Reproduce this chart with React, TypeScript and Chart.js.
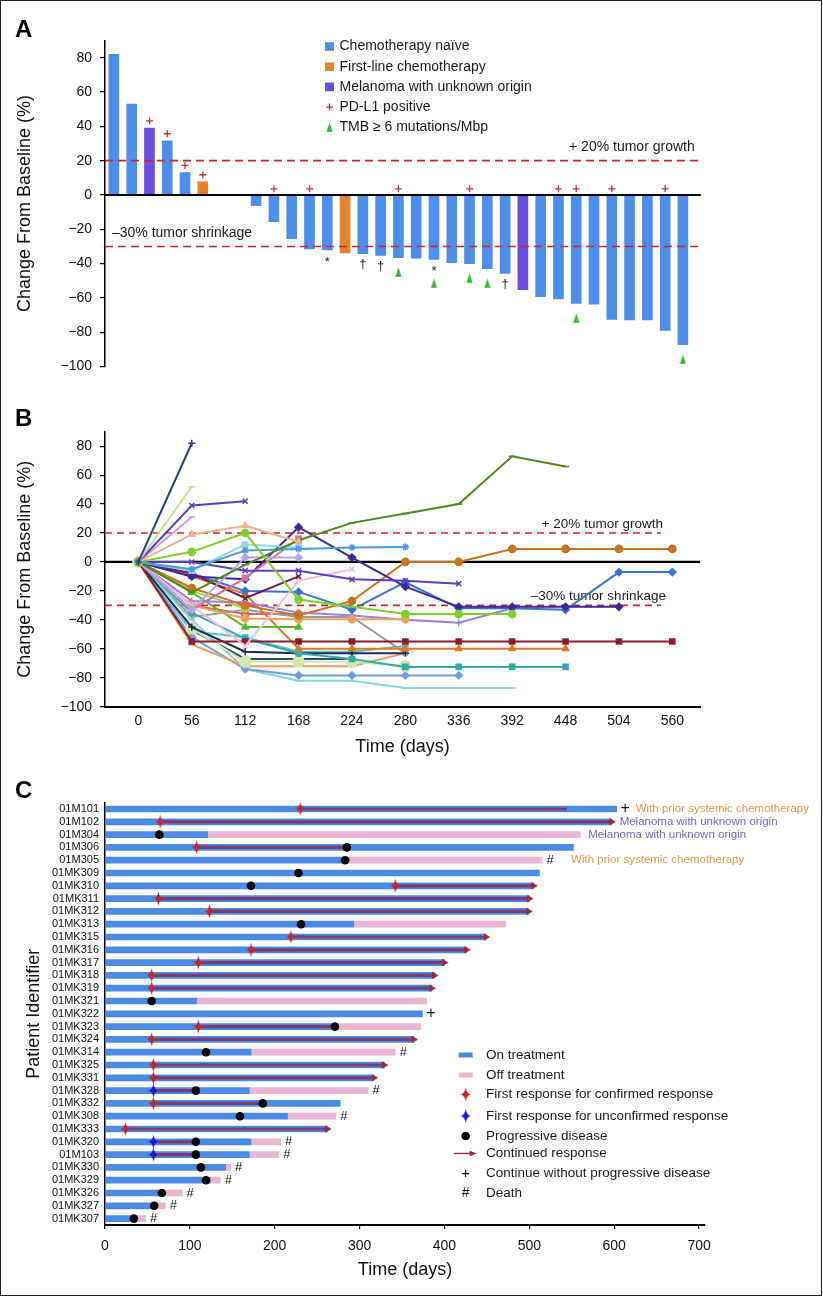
import React, { useEffect, useRef } from "react";
import { Chart, registerables } from "chart.js";

Chart.register(...registerables);

const FONT = '"Liberation Sans", Arial, Helvetica, sans-serif';
Chart.defaults.font.family = FONT;
Chart.defaults.color = "#111";

// ---------------- Panel A: best change from baseline ----------------
const waterfallChange: (number | null)[] = [
  82, 53, 39, 31.5, 13, 7.6, null, null, -6.2, -15.5, -25.5, -31.5, -32.1, -33.8, -34.2, -35.2, -36.5,
  -36.9, -37.5, -39.5, -40, -43, -45.7, -55.2, -59.3, -60.6, -63.2, -63.6, -72.5, -72.9, -72.9, -78.9, -87.3,
];
const waterfallCohort: string[] = [
  "N", "N", "M", "N", "N", "F", "", "", "N", "N", "N", "N", "N", "F", "N", "N", "N",
  "N", "N", "N", "N", "N", "N", "M", "N", "N", "N", "N", "N", "N", "N", "N", "N",
];
const cohortNames = ["Chemotherapy naïve", "First-line chemotherapy", "Melanoma with unknown origin"];
const pdl1PositiveSlots = [2, 3, 4, 5, 9, 11, 16, 20, 25, 26, 28, 31];
const tmbHighSlots = [16, 18, 20, 21, 26, 32];
const asteriskSlots = [12, 18];
const daggerSlots = [14, 15, 22];
const pctTicks = [-100, -80, -60, -40, -20, 0, 20, 40, 60, 80];

// ---------------- Panel B: change over time ----------------
const visitDays = [0, 56, 112, 168, 224, 280, 336, 392, 448, 504, 560];
const trajectories: (number | null)[][] = [
  [0, 82],
  [0, 52],
  [0, 39, 42],
  [0, 31],
  [0, 19, 25, 14],
  [0, 7, 20, -26, null, -36, -36, -36],
  [0, -21, -2, 15, 27, 33.5, 40, 73, 66],
  [0, -5, 8, 9, 10, 10.3],
  [0, -6, 12, 10],
  [0, -33, 3, 3],
  [0, 0, -6, -6, -12, -13, -15],
  [0, -33, -11, 16],
  [0, -10, -12, 24, 3, -17, -31, -31, -31, -31],
  [0, -8, -25, -10],
  [0, -30, -58, -13, -5],
  [0, -8, -20, -20.7, -33, -14, -32, -32, -33, -7, -7],
  [0, -18, -30, -37, -27, 0, 0, 9, 9, 9, 9],
  [0, -30, -39, -39.5, -39.5, -39.5],
  [0, -27, -28, -35, -37, -40, -42, -32],
  [0, -21, -45, -45],
  [0, -20, -32],
  [0, -55, -55, -55, -55, -55, -55, -55, -55, -55, -55],
  [0, -10, -22, -60, -60, -60, -60, -60, -60],
  [0, -35, -53, -63, -67, -72.5, -72.5, -72.5, -72.5],
  [0, -45, -62, -63, -63, -63],
  [0, -46, -69, -69, -69, -72],
  [0, -57, -72, -72, -72, -63],
  [0, -52, -74, -78.4, -78.4, -78.4, -78.4],
  [0, -40, -74, -82, -82, -87, -87, -87],
  [0, -38, -33, -38, -38, -63],
  [0, -48, -52, -62, -62, -58],
  [0, -47, -67, -67, -67],
  [0, -30, -36, -36],
];
const trajectoryColors = [
  "#23407e", "#bde58f", "#5a3fc6", "#d49ad6", "#f3b08e", "#7fd02c", "#4e8a1e", "#4a9ae0",
  "#8fd8ee", "#b7a6e6", "#5e3cc2", "#cf6ea6", "#3a2a99", "#7a1840", "#ecbfdc", "#3a72d6",
  "#c77420", "#f0a25c", "#9a80e2", "#5bb52c", "#a9d650", "#8b1c2c", "#e2782a", "#33a9ae",
  "#1d2b55", "#cfe9b0", "#eb9d62", "#6f9ee8", "#86d8d5", "#9a9a9a", "#56c6c4", "#2d4d6d", "#e0605a",
];
const trajectoryMarkers = [
  "cross", "line", "crossRot", "line", "triangle", "circle", "line", "star",
  "rect", "rectRot", "crossRot", "rect", "rectRot", "crossRot", "crossRot", "rectRot",
  "circle", "circle", "cross", "triangle", "circle", "rect", "triangle", "rect",
  "cross", "circle", "line", "rectRot", "line", "crossRot", "rect", "line", "circle",
];

// ---------------- Panel C: swimmer plot ----------------
const patientIds = [
  "01M101", "01M102", "01M304", "01M306", "01M305", "01MK309", "01MK310", "01MK311", "01MK312",
  "01MK313", "01MK315", "01MK316", "01MK317", "01MK318", "01MK319", "01MK321", "01MK322", "01MK323",
  "01MK324", "01MK314", "01MK325", "01MK331", "01MK328", "01MK332", "01MK308", "01MK333", "01MK320",
  "01M103", "01MK330", "01MK329", "01MK326", "01MK327", "01MK307",
];
const onTreatmentEnd = [
  603, 597, 121, 552, 283, 512, 505, 500, 499, 293, 449, 426, 400, 388, 385, 108, 374, 271, 364, 172,
  329, 317, 170, 277, 215, 262, 172, 170, 142, 124, 67, 58, 34,
];
const offTreatmentEnd: (number | null)[] = [
  null, null, 560, null, 515, null, null, null, null, 472, null, null, null, null, null, 379, null, 372,
  null, 342, null, null, 310, null, 272, null, 207, 205, 148, 136, 91, 71, 48,
];
const confirmedResponseDay: (number | null)[] = [
  230, 65, null, 108, null, null, 342, 63, 123, null, 219, 172, 110, 55, 55, null, null, 110, 55, null,
  57, 57, null, 57, null, 24, null, null, null, null, null, null, null,
];
const unconfirmedResponseDay: (number | null)[] = [
  null, null, null, null, null, null, null, null, null, null, null, null, null, null, null, null, null,
  null, null, null, null, null, 57, null, null, null, 57, 57, null, null, null, null, null,
];
const responseEndDay: (number | null)[] = [
  544, 597, null, 285, null, null, 505, 500, 499, null, 449, 426, 400, 388, 385, null, null, 271, 364,
  null, 329, 317, 107, 186, null, 262, 107, 107, null, null, null, null, null,
];
const responseContinues = [
  false, true, false, false, false, false, true, true, true, false, true, true, true, true, true, false,
  false, false, true, false, true, true, false, false, false, true, false, false, false, false, false,
  false, false,
];
const progressionDay: (number | null)[] = [
  null, null, 64, 285, 283, 228, 172, null, null, 231, null, null, null, null, null, 55, null, 271, null,
  119, null, null, 107, 186, 159, null, 107, 107, 113, 119, 67, 58, 34,
];
const continuesWithoutPD = ["01M101", "01MK322"];
const deceased = [
  "01M305", "01MK314", "01MK328", "01MK308", "01MK320", "01M103", "01MK330", "01MK329", "01MK326",
  "01MK327", "01MK307",
];
const patientNotes = [
  { id: "01M101", text: "With prior systemic chemotherapy", color: "#d99a4a" },
  { id: "01M102", text: "Melanoma with unknown origin", color: "#7a62c9" },
  { id: "01M304", text: "Melanoma with unknown origin", color: "#7a62c9" },
  { id: "01M305", text: "With prior systemic chemotherapy", color: "#d99a4a" },
];
const swimTicks = [0, 100, 200, 300, 400, 500, 600, 700];

// ---------------- helpers ----------------
const BLUE = "#4c8ee9";
const ORANGE = "#e5822b";
const PURPLE = "#6a4de0";
const PLUS_RED = "#b23a2a";
const TMB_GREEN = "#3ab83a";
const DASH_RED = "#c8282a";
const C_BLUE = "#4b8be6";
const C_PINK = "#e9b5d0";
const ARROW_RED = "#a8243a";

const minusFmt = (v: any) => (Number(v) < 0 ? "\u2212" + Math.abs(Number(v)) : String(v));

function makeCanvas(w: number, h: number, draw: (ctx: CanvasRenderingContext2D) => void) {
  const c = document.createElement("canvas");
  c.width = w;
  c.height = h;
  const ctx = c.getContext("2d")!;
  draw(ctx);
  return c;
}

function sparkle(color: string) {
  return makeCanvas(11, 15, (ctx) => {
    const cx = 5.5, cy = 7.5;
    ctx.fillStyle = color;
    ctx.beginPath();
    ctx.moveTo(cx, 0.3);
    ctx.quadraticCurveTo(cx + 0.9, cy - 0.9, 10.5, cy);
    ctx.quadraticCurveTo(cx + 0.9, cy + 0.9, cx, 14.7);
    ctx.quadraticCurveTo(cx - 0.9, cy + 0.9, 0.5, cy);
    ctx.quadraticCurveTo(cx - 0.9, cy - 0.9, cx, 0.3);
    ctx.fill();
  });
}

function tmbTriangle() {
  return makeCanvas(7, 10, (ctx) => {
    ctx.fillStyle = TMB_GREEN;
    ctx.beginPath();
    ctx.moveTo(3.5, 0.3);
    ctx.lineTo(6.6, 9.7);
    ctx.lineTo(0.4, 9.7);
    ctx.closePath();
    ctx.fill();
  });
}

const yAxisPct = (titlePad: number) => ({
  min: -100,
  max: 90,
  afterFit: (s: any) => {
    s.width = 105;
  },
  afterBuildTicks: (s: any) => {
    s.ticks = pctTicks.map((v) => ({ value: v }));
  },
  ticks: { padding: 8, font: { size: 14 }, color: "#111", callback: minusFmt },
  grid: { drawOnChartArea: false, drawTicks: true, tickLength: 5, color: "#000", lineWidth: 1.2 },
  border: { display: true, color: "#000", width: 1.5 },
  title: {
    display: true,
    text: "Change From Baseline (%)",
    font: { size: 18 },
    color: "#111",
    padding: { top: titlePad, bottom: 0 },
  },
});

// ---------------- Panel A ----------------
function buildA(canvas: HTMLCanvasElement) {
  const cohortColor: Record<string, string> = { N: BLUE, F: ORANGE, M: PURPLE, "": BLUE };
  const tri = tmbTriangle();
  const plugin = {
    id: "annotA",
    afterDatasetsDraw(chart: any) {
      const { ctx, chartArea, scales } = chart;
      const x = scales.x, y = scales.y;
      ctx.save();
      ctx.strokeStyle = DASH_RED;
      ctx.lineWidth = 1.6;
      ctx.setLineDash([8, 5]);
      [20, -30].forEach((v) => {
        const py = y.getPixelForValue(v);
        ctx.beginPath();
        ctx.moveTo(chartArea.left, py);
        ctx.lineTo(chartArea.right, py);
        ctx.stroke();
      });
      ctx.setLineDash([]);
      ctx.strokeStyle = "#000";
      ctx.lineWidth = 2;
      const z = y.getPixelForValue(0);
      ctx.beginPath();
      ctx.moveTo(chartArea.left, z);
      ctx.lineTo(chartArea.right, z);
      ctx.stroke();

      ctx.fillStyle = "#1a1a1a";
      ctx.font = `14px ${FONT}`;
      ctx.textBaseline = "middle";
      ctx.textAlign = "right";
      ctx.fillText("+ 20% tumor growth", chartArea.right - 6, y.getPixelForValue(20) - 14);
      ctx.textAlign = "left";
      ctx.fillText("\u201330% tumor shrinkage", chartArea.left + 7, y.getPixelForValue(-30) - 13.5);

      ctx.textAlign = "center";
      ctx.font = `13px ${FONT}`;
      asteriskSlots.forEach((i) => {
        ctx.fillText("*", x.getPixelForValue(i), y.getPixelForValue(waterfallChange[i] as number) + 12);
      });
      daggerSlots.forEach((i) => {
        ctx.fillText("\u2020", x.getPixelForValue(i), y.getPixelForValue(waterfallChange[i] as number) + 11);
      });

      // legend
      const lx = 325, ly0 = 46.5, dy = 20.2;
      const colors = [BLUE, ORANGE, PURPLE];
      ctx.font = `14px ${FONT}`;
      ctx.textAlign = "left";
      cohortNames.forEach((name, k) => {
        const ly = ly0 + k * dy;
        ctx.fillStyle = colors[k];
        ctx.fillRect(lx, ly - 4.3, 9, 8.6);
        ctx.fillStyle = "#1a1a1a";
        ctx.fillText(name, lx + 14.5, ly);
      });
      let ly = ly0 + 3 * dy;
      ctx.strokeStyle = PLUS_RED;
      ctx.lineWidth = 1.3;
      ctx.beginPath();
      ctx.moveTo(lx + 1, ly);
      ctx.lineTo(lx + 8, ly);
      ctx.moveTo(lx + 4.5, ly - 3.5);
      ctx.lineTo(lx + 4.5, ly + 3.5);
      ctx.stroke();
      ctx.fillStyle = "#1a1a1a";
      ctx.fillText("PD-L1 positive", lx + 14.5, ly);
      ly = ly0 + 4 * dy;
      ctx.drawImage(tri, lx + 1, ly - 5);
      ctx.fillText("TMB \u2265 6 mutations/Mbp", lx + 14.5, ly);
      ctx.restore();
    },
  };

  return new Chart(canvas, {
    type: "bar",
    data: {
      datasets: [
        {
          type: "bar",
          data: waterfallChange.map((v, i) => ({ x: i, y: v })) as any,
          backgroundColor: waterfallCohort.map((c) => cohortColor[c]),
          barThickness: 10,
          order: 2,
        },
        {
          type: "scatter",
          data: pdl1PositiveSlots.map((i) => {
            const v = waterfallChange[i] as number;
            return { x: i, y: v > 0 ? v + 4.2 : 3.6 };
          }),
          pointStyle: "cross",
          pointRadius: 3.5,
          borderColor: PLUS_RED,
          borderWidth: 1.3,
          order: 1,
        },
        {
          type: "scatter",
          data: tmbHighSlots.map((i) => {
            const v = waterfallChange[i] as number;
            return { x: i, y: v - (asteriskSlots.includes(i) ? 14 : 8.5) };
          }),
          pointStyle: tri as any,
          pointRadius: 5,
          order: 1,
        },
      ] as any,
    },
    options: {
      responsive: false,
      animation: false,
      layout: { padding: { left: 0, right: 122.3, top: 40.6, bottom: 18.5 } },
      plugins: { legend: { display: false }, tooltip: { enabled: false } },
      scales: {
        x: {
          type: "linear",
          min: -0.5,
          max: 33,
          offset: false,
          bounds: "data",
          grid: { offset: false },
          display: false,
        },
        y: yAxisPct(14.2) as any,
      },
    },
    plugins: [plugin],
  });
}

// ---------------- Panel B ----------------
function buildB(canvas: HTMLCanvasElement) {
  const plugin = {
    id: "guidesB",
    beforeDatasetsDraw(chart: any) {
      const { ctx, chartArea, scales } = chart;
      const x = scales.x, y = scales.y;
      const xEnd = x.getPixelForValue(548);
      ctx.save();
      ctx.strokeStyle = DASH_RED;
      ctx.lineWidth = 1.6;
      ctx.setLineDash([7, 5]);
      [20, -30].forEach((v) => {
        const py = y.getPixelForValue(v);
        ctx.beginPath();
        ctx.moveTo(chartArea.left, py);
        ctx.lineTo(xEnd, py);
        ctx.stroke();
      });
      ctx.setLineDash([]);
      ctx.strokeStyle = "#000";
      ctx.lineWidth = 2.2;
      const z = y.getPixelForValue(0);
      ctx.beginPath();
      ctx.moveTo(chartArea.left, z);
      ctx.lineTo(chartArea.right, z);
      ctx.stroke();
      ctx.font = `13.5px ${FONT}`;
      ctx.fillStyle = "#1a1a1a";
      ctx.textAlign = "right";
      ctx.textBaseline = "middle";
      ctx.fillText("+ 20% tumor growth", xEnd + 2, y.getPixelForValue(20) - 9);
      ctx.fillText("\u201330% tumor shrinkage", xEnd + 5, y.getPixelForValue(-30) - 9);
      ctx.restore();
    },
  };

  const datasets = trajectories.map((vals, k) => ({
    data: vals
      .map((v, j) => (v === null ? null : { x: visitDays[j], y: v }))
      .filter((p) => p !== null),
    borderColor: trajectoryColors[k],
    backgroundColor: trajectoryColors[k],
    pointStyle: trajectoryMarkers[k],
    pointRadius: k === 25 ? 5.5 : 3.6,
    pointBorderWidth: 1.5,
    borderWidth: 2,
    fill: false,
    tension: 0,
  }));

  return new Chart(canvas, {
    type: "line",
    data: { datasets: datasets as any },
    options: {
      responsive: false,
      animation: false,
      layout: { padding: { left: 0, right: 123, top: 46.7, bottom: 0 } },
      plugins: { legend: { display: false }, tooltip: { enabled: false } },
      scales: {
        x: {
          type: "linear",
          min: -35,
          max: 589,
          afterBuildTicks: (s: any) => {
            s.ticks = visitDays.map((v) => ({ value: v }));
          },
          afterFit: (s: any) => {
            s.height = 83.3;
          },
          ticks: { padding: 6, font: { size: 14 }, color: "#111" },
          grid: { drawOnChartArea: false, drawTicks: false },
          border: { display: true, color: "#000", width: 2 },
          title: {
            display: true,
            text: "Time (days)",
            font: { size: 18 },
            color: "#111",
            padding: { top: 0, bottom: 32.5 },
          },
        },
        y: yAxisPct(14.2) as any,
      },
    },
    plugins: [plugin],
  });
}

// ---------------- Panel C ----------------
function buildC(canvas: HTMLCanvasElement) {
  const starRed = sparkle("#c4262e");
  const starBlue = sparkle("#1a1ac8");
  const responseStart = patientIds.map((_, i) => confirmedResponseDay[i] ?? unconfirmedResponseDay[i]);

  const plugin = {
    id: "annotC",
    afterDatasetsDraw(chart: any) {
      const { ctx, scales } = chart;
      const x = scales.x, y = scales.y;
      ctx.save();
      ctx.fillStyle = "#111";
      ctx.textAlign = "center";
      ctx.textBaseline = "middle";
      patientIds.forEach((id, i) => {
        const endDay = offTreatmentEnd[i] ?? onTreatmentEnd[i];
        const px = x.getPixelForValue(endDay);
        const py = y.getPixelForValue(i);
        const hasPlus = continuesWithoutPD.includes(id);
        const hasDeath = deceased.includes(id);
        if (hasPlus) {
          ctx.font = `16px ${FONT}`;
          ctx.fillText("+", px + 8.5, py);
        }
        if (hasDeath) {
          ctx.font = `13px ${FONT}`;
          ctx.fillText("#", px + 8, py);
        }
        const note = patientNotes.find((n) => n.id === id);
        if (note) {
          ctx.save();
          ctx.font = `11.5px ${FONT}`;
          ctx.fillStyle = note.color;
          ctx.textAlign = "left";
          ctx.fillText(note.text, px + (hasPlus ? 19 : hasDeath ? 29 : 8), py);
          ctx.restore();
        }
      });

      // legend
      const sx = 465.7, tx = 486;
      const rows = [1055, 1075, 1094.5, 1116, 1136, 1153.5, 1173.5, 1193.5].map((v) => v - 790);
      const labels = [
        "On treatment",
        "Off treatment",
        "First response for confirmed response",
        "First response for unconfirmed response",
        "Progressive disease",
        "Continued response",
        "Continue without progressive disease",
        "Death",
      ];
      ctx.fillStyle = C_BLUE;
      ctx.fillRect(sx - 7, rows[0] - 2.5, 14, 5);
      ctx.fillStyle = C_PINK;
      ctx.fillRect(sx - 7, rows[1] - 2.5, 14, 5);
      ctx.drawImage(starRed, sx - 5.5, rows[2] - 7.5);
      ctx.drawImage(starBlue, sx - 5.5, rows[3] - 7.5);
      ctx.fillStyle = "#000";
      ctx.beginPath();
      ctx.arc(sx, rows[4], 4.3, 0, Math.PI * 2);
      ctx.fill();
      ctx.strokeStyle = ARROW_RED;
      ctx.lineWidth = 1.3;
      ctx.beginPath();
      ctx.moveTo(sx - 12, rows[5]);
      ctx.lineTo(sx + 6, rows[5]);
      ctx.stroke();
      ctx.fillStyle = ARROW_RED;
      ctx.beginPath();
      ctx.moveTo(sx + 11, rows[5]);
      ctx.lineTo(sx + 4, rows[5] - 2.8);
      ctx.lineTo(sx + 4, rows[5] + 2.8);
      ctx.closePath();
      ctx.fill();
      ctx.fillStyle = "#111";
      ctx.font = `15px ${FONT}`;
      ctx.fillText("+", sx, rows[6]);
      ctx.font = `14px ${FONT}`;
      ctx.fillText("#", sx, rows[7]);
      ctx.textAlign = "left";
      ctx.font = `13.5px ${FONT}`;
      ctx.fillStyle = "#1a1a1a";
      labels.forEach((l, k) => ctx.fillText(l, tx, rows[k]));
      ctx.restore();
    },
  };

  const datasets: any[] = [
    {
      type: "bar",
      data: onTreatmentEnd.map((v) => [0, v]),
      backgroundColor: C_BLUE,
      barThickness: 6,
      grouped: false,
      order: 6,
    },
    {
      type: "bar",
      data: offTreatmentEnd.map((v, i) => (v === null ? null : [onTreatmentEnd[i], v])),
      backgroundColor: C_PINK,
      barThickness: 6,
      grouped: false,
      order: 6,
    },
    {
      type: "bar",
      data: responseStart.map((s, i) => (s === null ? null : [s, responseEndDay[i]])),
      backgroundColor: "rgba(140,30,70,0.72)",
      barThickness: 2.5,
      grouped: false,
      order: 5,
    },
    {
      type: "scatter",
      data: patientIds
        .map((id, i) => (responseContinues[i] ? { x: responseEndDay[i], y: id } : null))
        .filter((p) => p !== null),
      pointStyle: "triangle",
      rotation: 90,
      pointRadius: 3.8,
      backgroundColor: ARROW_RED,
      borderColor: ARROW_RED,
      borderWidth: 0.5,
      order: 4,
    },
    {
      type: "scatter",
      data: patientIds
        .map((id, i) => (progressionDay[i] === null ? null : { x: progressionDay[i], y: id }))
        .filter((p) => p !== null),
      pointStyle: "circle",
      pointRadius: 4.3,
      backgroundColor: "#000",
      borderColor: "#000",
      borderWidth: 0,
      order: 3,
    },
    {
      type: "scatter",
      data: patientIds
        .map((id, i) => (confirmedResponseDay[i] === null ? null : { x: confirmedResponseDay[i], y: id }))
        .filter((p) => p !== null),
      pointStyle: starRed,
      pointRadius: 6,
      order: 2,
    },
    {
      type: "scatter",
      data: patientIds
        .map((id, i) => (unconfirmedResponseDay[i] === null ? null : { x: unconfirmedResponseDay[i], y: id }))
        .filter((p) => p !== null),
      pointStyle: starBlue,
      pointRadius: 6,
      order: 2,
    },
  ];

  return new Chart(canvas, {
    type: "bar",
    data: { labels: patientIds, datasets },
    options: {
      indexAxis: "y",
      responsive: false,
      animation: false,
      layout: { padding: { left: 0, right: 118, top: 9.3, bottom: 0 } },
      plugins: { legend: { display: false }, tooltip: { enabled: false } },
      scales: {
        x: {
          type: "linear",
          min: 0,
          max: 707,
          afterBuildTicks: (s: any) => {
            s.ticks = swimTicks.map((v) => ({ value: v }));
          },
          afterFit: (s: any) => {
            s.height = 72;
          },
          ticks: { padding: 8.6, font: { size: 14 }, color: "#111" },
          grid: { drawOnChartArea: false, drawTicks: true, tickLength: 4, color: "#000", lineWidth: 1.2 },
          border: { display: true, color: "#000", width: 2 },
          title: {
            display: true,
            text: "Time (days)",
            font: { size: 18 },
            color: "#111",
            padding: { top: 0, bottom: 16.2 },
          },
        },
        y: {
          type: "category",
          afterFit: (s: any) => {
            s.width = 105;
          },
          ticks: { autoSkip: false, padding: 6, font: { size: 11 }, color: "#111" },
          grid: { drawOnChartArea: false, drawTicks: false },
          border: { display: true, color: "#000", width: 1.5 },
          title: {
            display: true,
            text: "Patient Identifier",
            font: { size: 18 },
            color: "#111",
            padding: { top: 23, bottom: 0 },
          },
        },
      },
    },
    plugins: [plugin],
  });
}

const letterStyle = (left: number, top: number): React.CSSProperties => ({
  position: "absolute",
  left,
  top,
  fontFamily: FONT,
  fontWeight: "bold",
  fontSize: 24,
  lineHeight: "24px",
  color: "#000",
});

export default function App() {
  const refA = useRef<HTMLCanvasElement>(null);
  const refB = useRef<HTMLCanvasElement>(null);
  const refC = useRef<HTMLCanvasElement>(null);

  useEffect(() => {
    const charts = [buildA(refA.current!), buildB(refB.current!), buildC(refC.current!)];
    return () => charts.forEach((c) => c.destroy());
  }, []);

  return (
    <div style={{ position: "absolute", left: 0, top: 0, width: 823, height: 1297, background: "#fff" }}>
      <canvas ref={refA} width={823} height={385} style={{ position: "absolute", left: 0, top: 0 }} />
      <canvas ref={refB} width={823} height={405} style={{ position: "absolute", left: 0, top: 385 }} />
      <canvas ref={refC} width={823} height={507} style={{ position: "absolute", left: 0, top: 790 }} />
      <div style={letterStyle(15, 17)}>A</div>
      <div style={letterStyle(15, 406)}>B</div>
      <div style={letterStyle(15, 778)}>C</div>
      <div
        style={{
          position: "absolute",
          left: 0,
          top: 0,
          width: 822,
          height: 1296,
          border: "1.5px solid #222",
          boxSizing: "border-box",
          pointerEvents: "none",
        }}
      />
    </div>
  );
}
